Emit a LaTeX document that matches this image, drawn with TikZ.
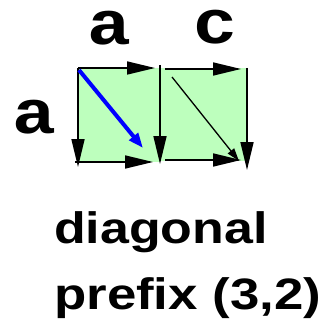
\documentclass[tikz,border=0pt]{standalone}
\usepackage{fontspec}
\usetikzlibrary{arrows.meta}
\newfontfamily\labelfont{Liberation Mono}
\newfontfamily\capfont{Liberation Sans}
\definecolor{cellgreen}{RGB}{189,255,189}
\tikzset{
  edge/.style={line width=1.7pt, -{Triangle[length=28pt,width=13pt]}},
  bluediag/.style={line width=4pt, blue, -{Triangle[length=15pt,width=11pt]}},
  thindiag/.style={line width=1.3pt, -{Triangle[length=13pt,width=8pt]}},
  varlabel/.style={anchor=base, inner sep=0pt, text height=34pt, text depth=0pt, font=\labelfont\bfseries\fontsize{62}{62}\selectfont},
  caption/.style={anchor=base west, inner sep=0pt, font=\capfont\bfseries\fontsize{44}{44}\selectfont}
}
\begin{document}
\begin{tikzpicture}[x=1pt,y=-1pt]
\useasboundingbox (0,0) rectangle (322,323);
% cells
\fill[cellgreen] (78,68) rectangle (160,162);
\fill[cellgreen] (160,68) rectangle (247,161);
% coordinates
\coordinate (t1s) at (78,68);
\coordinate (t1e) at (155,68);
\coordinate (l1e) at (78,167);
\coordinate (b1s) at (75,162);
\coordinate (b1e) at (153,162);
\coordinate (ms) at (160,65);
\coordinate (me) at (160,164);
\coordinate (bds) at (79,70);
\coordinate (bde) at (143,148);
\coordinate (t2s) at (165,69);
\coordinate (t2e) at (241,69);
\coordinate (b2s) at (165,160);
\coordinate (b2e) at (241,160);
\coordinate (r2s) at (247,68);
\coordinate (r2e) at (247,170);
\coordinate (tds) at (172,77);
\coordinate (tde) at (239,161);
% edges
\draw[edge] (t1s) -- (t1e);
\draw[edge] (t1s) -- (l1e);
\draw[edge] (b1s) -- (b1e);
\draw[edge] (ms) -- (me);
\draw[edge] (t2s) -- (t2e);
\draw[edge] (b2s) -- (b2e);
\draw[edge] (r2s) -- (r2e);
\draw[bluediag] (bds) -- (bde);
\draw[thindiag] (tds) -- (tde);
% labels
\node[varlabel] (la) at (109,45) {\scalebox{1.18}[1]{a}};
\node[varlabel] (lc) at (215,44) {\scalebox{1.18}[1]{c}};
\node[varlabel] (ll) at (34,133) {\scalebox{1.18}[1]{a}};
\node[caption] (c1) at (54,243) {\scalebox{1.18}[1]{diagonal}};
\node[caption] (c2) at (54,309) {\scalebox{1.2}[1]{prefix (3,2)}};
\end{tikzpicture}
\end{document}
